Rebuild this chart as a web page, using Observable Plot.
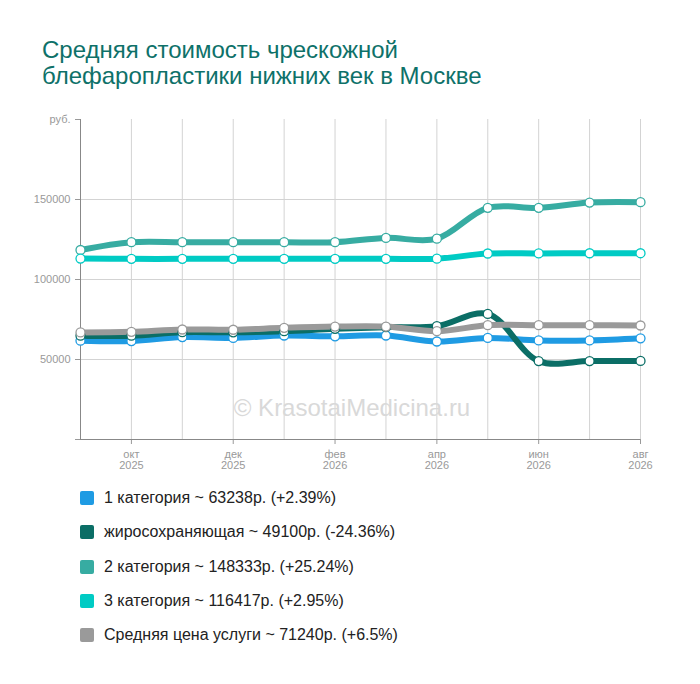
<!DOCTYPE html>
<html>
<head>
<meta charset="utf-8">
<script src="https://cdn.jsdelivr.net/npm/d3@7"></script>
<script src="https://cdn.jsdelivr.net/npm/@observablehq/plot@0.6"></script>
<style>
  html, body { margin: 0; padding: 0; background: #fff; }
  body { width: 700px; height: 684px; position: relative; font-family: "Liberation Sans", Arial, sans-serif; overflow: hidden; }
  #title { position: absolute; left: 42px; top: 37px; font-size: 24px; line-height: 26px; color: #0e7169; }
  #chart { position: absolute; left: 0; top: 100px; }
  #watermark { position: absolute; left: 0; width: 704px; top: 394px; text-align: center; font-size: 24px; color: #d9d9d9; }
  #legend { position: absolute; left: 80px; top: 481px; }
  .item { height: 34.3px; display: flex; align-items: center; font-size: 16px; color: #222; }
  .sw { width: 14px; height: 14px; border-radius: 2px; margin-right: 10px; }
</style>
</head>
<body>
<div id="title">Средняя стоимость чрескожной<br>блефаропластики нижних век в Москве</div>
<div id="chart"></div>
<div id="watermark">© KrasotaiMedicina.ru</div>
<div id="legend"></div>
<script>
const months = ["2025-09","2025-10","2025-11","2025-12","2026-01","2026-02","2026-03","2026-04","2026-05","2026-06","2026-07","2026-08"];
const monthNames = ["сен","окт","ноя","дек","янв","фев","мар","апр","май","июн","июл","авг"];
const labeledMonths = ["2025-10","2025-12","2026-02","2026-04","2026-06","2026-08"];

const seriesNames = ["1 категория","жиросохраняющая","2 категория","3 категория","Средняя цена услуги"];
const seriesColors = ["#1f9be3","#0b6e66","#37aca2","#00cbc4","#9a9a9a"];
const legendTexts = [
  "1 категория ~ 63238р. (+2.39%)",
  "жиросохраняющая ~ 49100р. (-24.36%)",
  "2 категория ~ 148333р. (+25.24%)",
  "3 категория ~ 116417р. (+2.95%)",
  "Средняя цена услуги ~ 71240р. (+6.5%)"
];

const cat1  = [61762, 61500, 64000, 63500, 65000, 64500, 65000, 61250, 63500, 61900, 61900, 63238];
const fat   = [64913, 64900, 67100, 67000, 67700, 69200, 70200, 70800, 78500, 49000, 49000, 49100];
const cat2  = [118443, 123300, 123300, 123300, 123300, 123300, 126000, 125500, 144800, 144800, 148100, 148333];
const cat3  = [113081, 112900, 112900, 112900, 112900, 112900, 112900, 113000, 116250, 116300, 116400, 116417];
const avg   = [66892, 67300, 68750, 68600, 69800, 70600, 70600, 67700, 71450, 71450, 71450, 71240];

const yTicks = [0, 50000, 100000, 150000, 200000];

const allValues = [cat1, fat, cat2, cat3, avg];
const rows = seriesNames.flatMap((name, i) =>
  months.map((m, j) => ({series: name, month: m, value: allValues[i][j]}))
);

const chart = Plot.plot({
  width: 700,
  height: 380,
  marginLeft: 80,
  marginRight: 60,
  marginTop: 19,
  marginBottom: 41,
  style: {fontFamily: "'Liberation Sans', Arial, sans-serif", fontSize: "11px", color: "#999", background: "transparent"},
  x: {type: "point", domain: months, padding: 0, inset: 0, round: false},
  y: {domain: [0, 200000], inset: 0},
  color: {domain: seriesNames, range: seriesColors},
  marks: [
    Plot.gridX(months, {stroke: "#d3d3d3", strokeOpacity: 1}),
    Plot.gridY(yTicks.filter(d => d > 0 && d < 200000), {stroke: "#d3d3d3", strokeOpacity: 1}),
    Plot.axisY({ticks: yTicks, tickSize: 5, tickPadding: 5, label: null,
      tickFormat: d => d === 0 ? "" : d === 200000 ? "руб." : String(d)}),
    Plot.axisX({ticks: labeledMonths, tickSize: 5, tickPadding: 6, label: null,
      tickFormat: m => monthNames[months.indexOf(m)] + "\n" + m.slice(0, 4)}),
    Plot.ruleX([months[0]], {stroke: "#888"}),
    Plot.ruleY([0], {stroke: "#888"}),
    Plot.line(rows, {x: "month", y: "value", z: "series", stroke: "series", strokeWidth: 6, curve: "catmull-rom", strokeLinecap: "round", strokeLinejoin: "round"}),
    Plot.dot(rows, {x: "month", y: "value", stroke: "series", fill: "white", r: 4.5, strokeWidth: 1.3})
  ]
});
document.getElementById("chart").appendChild(chart);

const legend = document.getElementById("legend");
seriesNames.forEach((name, i) => {
  const item = document.createElement("div");
  item.className = "item";
  const sw = document.createElement("div");
  sw.className = "sw";
  sw.style.background = seriesColors[i];
  const t = document.createElement("span");
  t.textContent = legendTexts[i];
  item.appendChild(sw);
  item.appendChild(t);
  legend.appendChild(item);
});
</script>
</body>
</html>
